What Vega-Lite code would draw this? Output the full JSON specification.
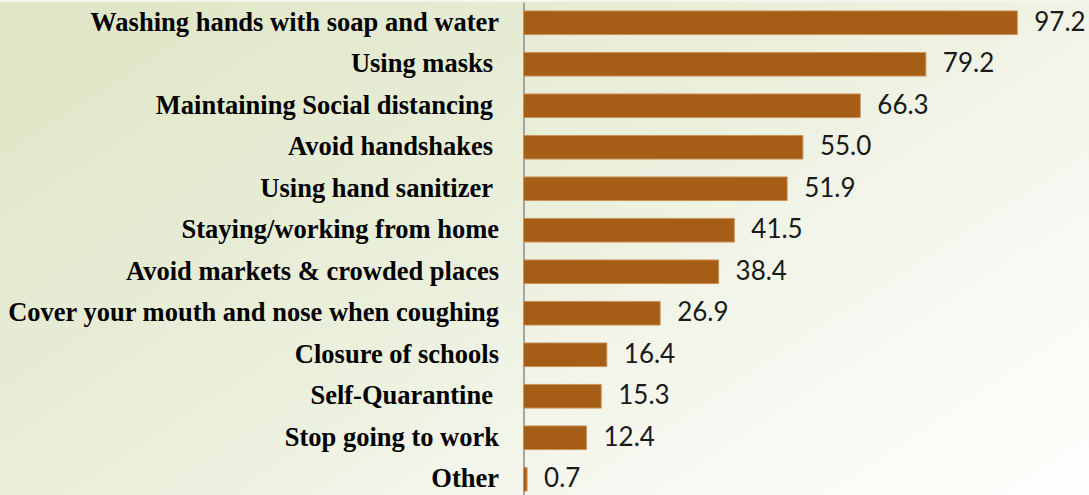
{
  "$schema": "https://vega.github.io/schema/vega-lite/v6.json",
  "width": 1089,
  "height": 498,
  "autosize": {"type": "none"},
  "padding": {"left": 0, "top": 2, "right": 0, "bottom": 0},
  "background": "#f4f6ee",
  "config": {
    "view": {
      "stroke": null,
      "fill": {
        "gradient": "linear",
        "x1": 0, "y1": 0.2, "x2": 1, "y2": 0.9,
        "stops": [
          {"offset": 0, "color": "#E0E7C8"},
          {"offset": 0.45, "color": "#EBF0DD"},
          {"offset": 0.75, "color": "#F7F8F1"},
          {"offset": 1, "color": "#FDFDFB"}
        ]
      }
    }
  },
  "data": {
    "values": [
      {"measure": "Washing hands with soap and water", "pct": 97.2},
      {"measure": "Using masks ", "pct": 79.2},
      {"measure": "Maintaining Social distancing ", "pct": 66.3},
      {"measure": "Avoid handshakes ", "pct": 55.0},
      {"measure": "Using hand sanitizer ", "pct": 51.9},
      {"measure": "Staying/working from home", "pct": 41.5},
      {"measure": "Avoid markets & crowded places", "pct": 38.4},
      {"measure": "Cover your mouth and nose when coughing", "pct": 26.9},
      {"measure": "Closure of schools", "pct": 16.4},
      {"measure": "Self-Quarantine ", "pct": 15.3},
      {"measure": "Stop going to work", "pct": 12.4},
      {"measure": "Other", "pct": 0.7}
    ]
  },
  "encoding": {
    "y": {
      "field": "measure",
      "type": "nominal",
      "sort": null,
      "scale": {"paddingInner": 0.43, "paddingOuter": 0.215},
      "axis": {
        "title": null,
        "offset": -523.5,
        "ticks": false,
        "tickSize": 0,
        "grid": false,
        "domain": true,
        "domainColor": "#8C8C8C",
        "domainWidth": 1.5,
        "labelPadding": {"condition": {"test": "test(regexp(' $'), datum.value)", "value": 31}, "value": 25},
        "labelFont": "Liberation Serif",
        "labelFontWeight": "bold",
        "labelFontSize": 26.5,
        "labelColor": "#000000",
        "labelLimit": 700
      }
    },
    "x": {
      "field": "pct",
      "type": "quantitative",
      "scale": {"domain": [-103.05, 111.32], "nice": false},
      "axis": null
    }
  },
  "layer": [
    {
      "mark": {"type": "bar", "fill": "#A65E17", "stroke": "#C8935A", "strokeWidth": 1}
    },
    {
      "mark": {
        "type": "text",
        "align": "left",
        "baseline": "middle",
        "dx": 17,
        "font": "Lato",
        "fontSize": 26,
        "color": "#1a1a1a"
      },
      "encoding": {
        "text": {"field": "pct", "type": "quantitative", "format": ".1f"}
      }
    }
  ]
}
